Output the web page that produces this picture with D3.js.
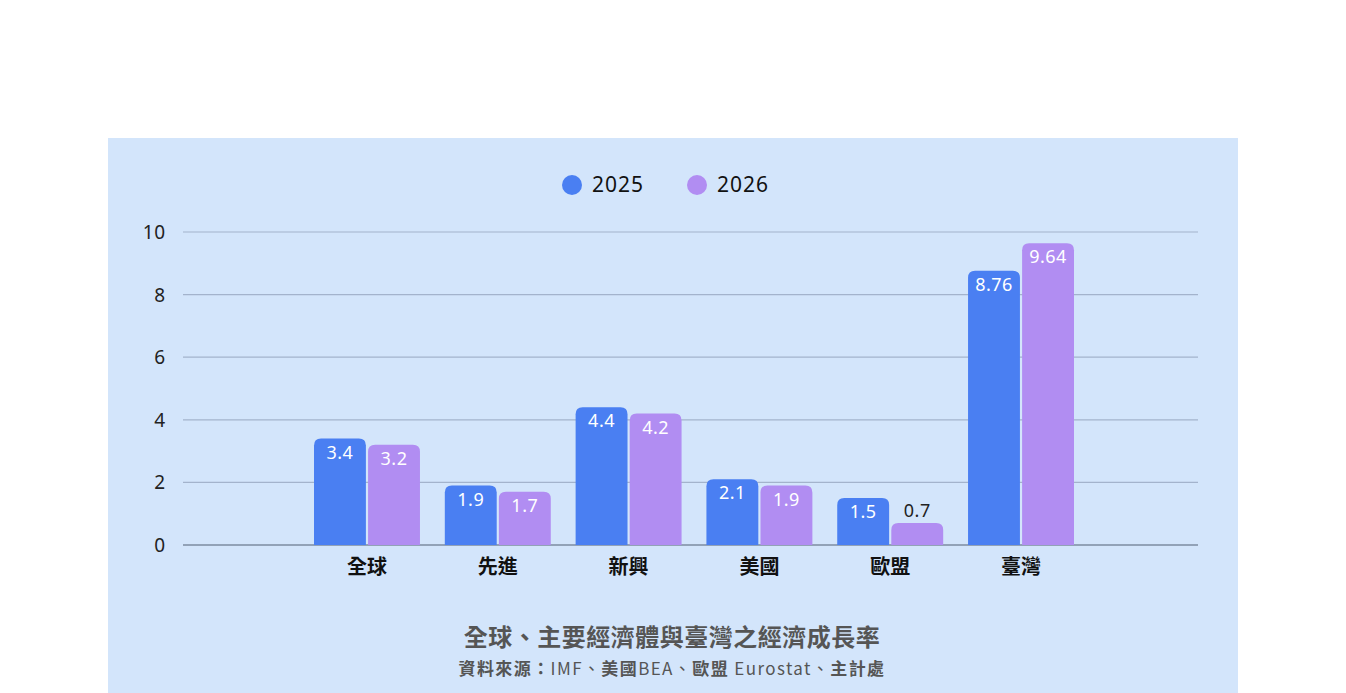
<!DOCTYPE html>
<html>
<head>
<meta charset="utf-8">
<script src="https://cdn.jsdelivr.net/npm/d3@7"></script>
<style>
  body { margin: 0; background: #fff; }
  svg { display: block; }
</style>
</head>
<body>
<svg id="chart" width="1346" height="693"></svg>
<script>
// dati
const categories = ["全球", "先進", "新興", "美國", "歐盟", "臺灣"];
const years = ["2025", "2026"];
const values2025 = [3.4, 1.9, 4.4, 2.1, 1.5, 8.76];
const values2026 = [3.2, 1.7, 4.2, 1.9, 0.7, 9.64];
const yTicks = [0, 2, 4, 6, 8, 10];
const colors = ["#4a7ff2", "#b18df2"];

const font = "'Noto Sans', 'Noto Sans CJK TC', sans-serif";
const fontCJK = "'Noto Sans CJK TC', 'Noto Sans', sans-serif";
const svg = d3.select("#chart");

// pannello di sfondo
svg.append("rect")
    .attr("x", 108).attr("y", 138)
    .attr("width", 1130).attr("height", 560)
    .attr("fill", "#d3e5fb");

const y = d3.scaleLinear().domain([0, 10]).range([545, 232]);

const x0 = d3.scaleBand()
    .domain(categories)
    .range([190, 1198])
    .paddingInner(0.19)
    .paddingOuter(0.948);

const x1 = d3.scaleBand()
    .domain(years)
    .range([0, x0.bandwidth()])
    .paddingInner(0.04);

// griglia
svg.append("g").selectAll("line")
    .data(yTicks)
    .enter().append("line")
    .attr("x1", 183).attr("x2", 1198)
    .attr("y1", d => y(d)).attr("y2", d => y(d))
    .attr("stroke", d => d === 0 ? "#7d8ba0" : "#a3b3cc")
    .attr("stroke-width", d => d === 0 ? 1.5 : 1.2);

svg.append("g").selectAll("text")
    .data(yTicks)
    .enter().append("text")
    .attr("x", 166)
    .attr("y", d => y(d) + 7)
    .attr("text-anchor", "end")
    .attr("font-family", font)
    .attr("font-size", 19)
    .attr("letter-spacing", 0.8)
    .attr("fill", "#222")
    .text(d => d);

// barre
const rows = [];
categories.forEach((c, i) => {
    rows.push({ cat: c, year: "2025", v: values2025[i], k: 0 });
    rows.push({ cat: c, year: "2026", v: values2026[i], k: 1 });
});

function barPath(x, top, w, bottom, r) {
    r = Math.min(r, (bottom - top));
    return "M" + x + "," + bottom +
        " V" + (top + r) +
        " Q" + x + "," + top + " " + (x + r) + "," + top +
        " H" + (x + w - r) +
        " Q" + (x + w) + "," + top + " " + (x + w) + "," + (top + r) +
        " V" + bottom + " Z";
}

const bars = svg.append("g");
bars.selectAll("path")
    .data(rows)
    .enter().append("path")
    .attr("d", d => barPath(x0(d.cat) + x1(d.year), y(d.v), x1.bandwidth(), y(0), 7))
    .attr("fill", d => colors[d.k]);

bars.selectAll("text")
    .data(rows)
    .enter().append("text")
    .attr("x", d => x0(d.cat) + x1(d.year) + x1.bandwidth() / 2)
    .attr("y", d => (y(0) - y(d.v)) < 30 ? y(d.v) - 6 : y(d.v) + 20)
    .attr("text-anchor", "middle")
    .attr("font-family", font)
    .attr("font-size", 18)
    .attr("letter-spacing", 0.5)
    .attr("fill", d => (y(0) - y(d.v)) < 30 ? "#222" : "#fff")
    .text(d => d.v);

// etichette asse x
svg.append("g").selectAll("text")
    .data(categories)
    .enter().append("text")
    .attr("x", d => x0(d) + x0.bandwidth() / 2)
    .attr("y", 574)
    .attr("text-anchor", "middle")
    .attr("font-family", fontCJK)
    .attr("font-weight", "bold")
    .attr("font-size", 20)
    .attr("fill", "#111")
    .text(d => d);

// legenda
const legend = svg.append("g");
const legendX = [572, 697];
years.forEach((yr, i) => {
    legend.append("circle")
        .attr("cx", legendX[i]).attr("cy", 185).attr("r", 10)
        .attr("fill", colors[i]);
    legend.append("text")
        .attr("x", legendX[i] + 20).attr("y", 192)
        .attr("font-family", font)
        .attr("font-size", 21)
        .attr("letter-spacing", 1)
        .attr("fill", "#111")
        .text(yr);
});

// titolo e fonte
svg.append("text")
    .attr("x", 672).attr("y", 646)
    .attr("text-anchor", "middle")
    .attr("font-family", fontCJK)
    .attr("font-weight", "bold")
    .attr("font-size", 24)
    .attr("letter-spacing", 0.5)
    .attr("fill", "#555")
    .text("全球、主要經濟體與臺灣之經濟成長率");

const source = svg.append("text")
    .attr("x", 672).attr("y", 675)
    .attr("text-anchor", "middle")
    .attr("font-family", fontCJK)
    .attr("font-size", 17)
    .attr("letter-spacing", 1.4)
    .attr("fill", "#555");
const parts = [
    ["資料來源：", true], ["IMF、", false], ["美國", true], ["BEA、", false],
    ["歐盟", true], [" Eurostat、", false], ["主計處", true]
];
parts.forEach(p => {
    source.append("tspan")
        .attr("font-weight", p[1] ? "bold" : "normal")
        .text(p[0]);
});
</script>
</body>
</html>
